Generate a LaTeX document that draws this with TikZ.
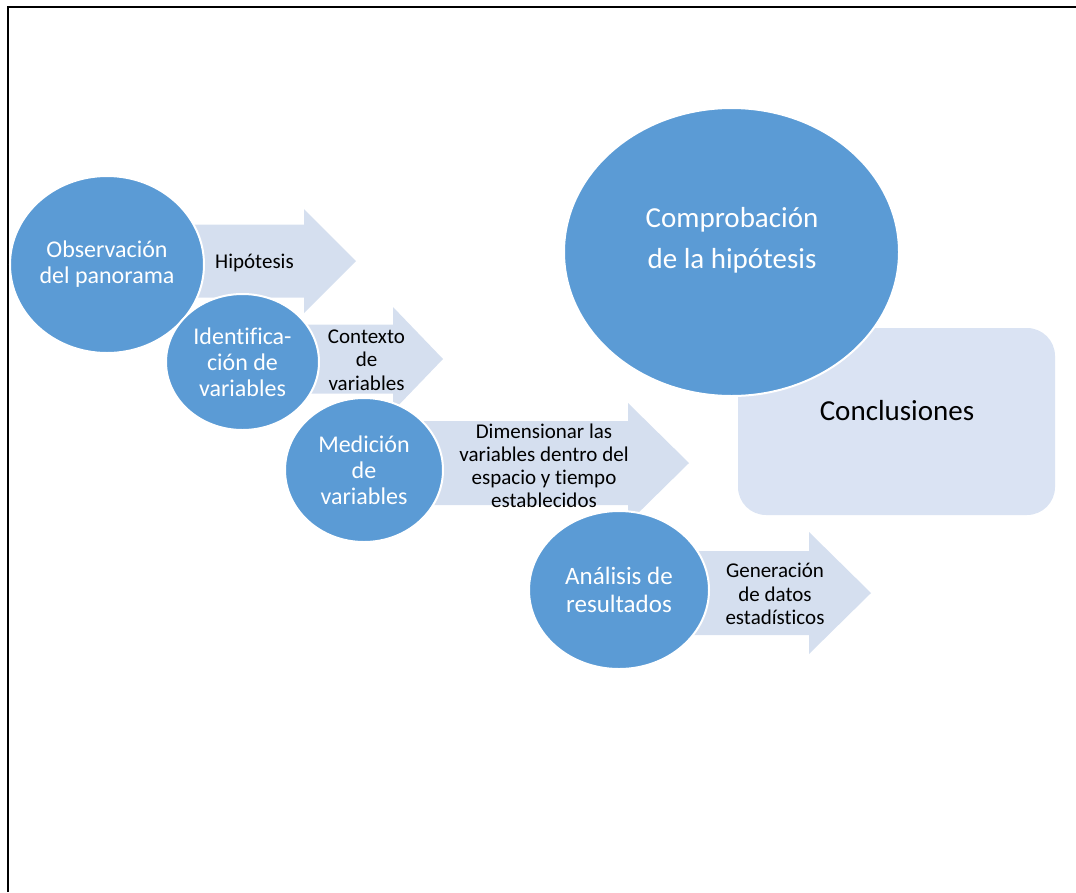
\documentclass[tikz,border=0pt]{standalone}
\usepackage{fontspec}
\setmainfont{Carlito}[Ligatures=NoCommon]
\usetikzlibrary{shapes.geometric}

\definecolor{azul}{HTML}{5B9BD5}
\definecolor{celeste}{HTML}{D5DFEF}
\definecolor{celesteclaro}{HTML}{DAE3F3}

\tikzset{
    circulo/.style={ellipse, fill=azul, draw=white, line width=2pt, inner sep=0pt,
        text=white, align=center, font=\fontsize{24}{26}\selectfont},
    flecha/.style={fill=celeste},
    rotulo/.style={align=center, text=black, font=\fontsize{21}{23.5}\selectfont},
}

\begin{document}
\begin{tikzpicture}[x=1pt,y=-1pt]
    \useasboundingbox (0,0) rectangle (1076,892);
    \draw[line width=2pt] (8,892) -- (8,7) -- (1076,7);

    % flechas
    \foreach \xa/\xb/\xc/\ym/\hb/\hh in {107/304/356/261/36.5/52, 242/393/443/359/34.5/52,
                                         364/628/689/463/42/60, 619/809/871/593/42/61} {
        \fill[flecha] (\xa,\ym-\hb) -- (\xb,\ym-\hb) -- (\xb,\ym-\hh) -- (\xc,\ym)
            -- (\xb,\ym+\hh) -- (\xb,\ym+\hb) -- (\xa,\ym+\hb) -- cycle;
    }

    \node[rectangle, rounded corners=28pt, fill=celesteclaro,
        minimum width=317pt, minimum height=187pt] (concl) at (896.5,421.5) {};

    \node[circulo, minimum width=194pt, minimum height=177pt] (obs) at (107,264.5) {Observación\\del panorama};
    \node[circulo, minimum width=153pt, minimum height=136pt] (ident) at (242.5,362) {Identifica-\\ción de\\variables};
    \node[circulo, minimum width=158pt, minimum height=144pt] (med) at (364,470) {Medición\\de\\variables};
    \node[circulo, minimum width=180pt, minimum height=158pt,
        font=\fontsize{25}{28.7}\selectfont] (anal) at (619,590) {Análisis de\\resultados};
    \node[circulo, minimum width=335pt, minimum height=288pt] (comp) at (731.5,252) {};
    \node[text=white, align=center, font=\fontsize{29}{41}\selectfont] (comptxt) at (732,240.5) {Comprobación\\de la hipótesis};
    \node[font=\fontsize{29}{34}\selectfont] (concltxt) at (897,411) {Conclusiones};

    \node[rotulo] (hip) at (254.5,263) {Hipótesis};
    \node[rotulo] (ctx) at (366.5,360) {Contexto\\de\\variables};
    \node[rotulo, font=\fontsize{21}{23}\selectfont] (dim) at (544,465.5) {Dimensionar las\\variables dentro del\\espacio y tiempo\\establecidos};
    \node[rotulo] (gen) at (775,594) {Generación\\de datos\\estadísticos};
\end{tikzpicture}
\end{document}
